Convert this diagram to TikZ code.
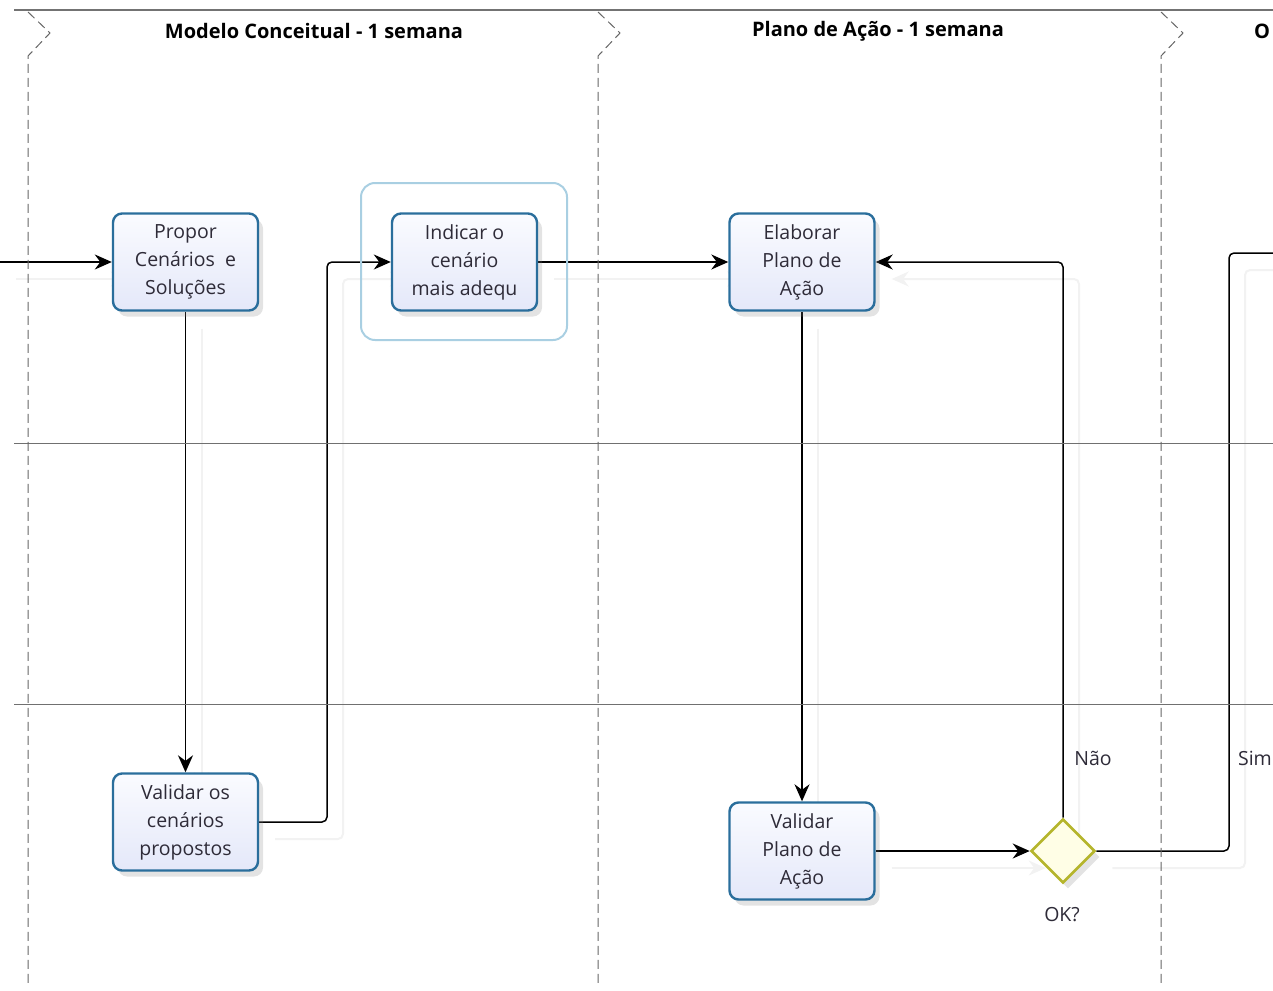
\documentclass[tikz,border=0pt]{standalone}
\usepackage{fontspec}
\setmainfont{Open Sans}
\usetikzlibrary{arrows.meta,shadows,shapes.geometric}
\definecolor{boxline}{HTML}{2A6E9C}
\definecolor{boxtop}{HTML}{FAFBFF}
\definecolor{boxbot}{HTML}{E4E8F9}
\definecolor{txt}{HTML}{2E2B38}
\definecolor{lane}{HTML}{707070}
\definecolor{halo}{HTML}{A9CFE2}
\definecolor{gatefill}{HTML}{FFFEE6}
\definecolor{gateline}{HTML}{B5B52C}
\pgfdeclarelayer{bg}
\pgfsetlayers{bg,main}
\tikzset{
  task/.style={draw=boxline, line width=2.4pt, rounded corners=9pt,
    top color=boxtop, bottom color=boxbot,
    minimum width=145pt, minimum height=97pt, inner sep=0pt,
    align=center, text=txt, font=\fontsize{19.5}{28}\selectfont,
    drop shadow={opacity=0.22, shadow xshift=5pt, shadow yshift=-6pt}},
  gate/.style={diamond, draw=gateline, line width=2.6pt, fill=gatefill,
    minimum width=64pt, minimum height=64pt, inner sep=0pt,
    drop shadow={opacity=0.22, shadow xshift=5pt, shadow yshift=-6pt}},
  conn/.style={draw=black, line width=1.5pt, rounded corners=5pt,
    -{Stealth[length=17pt,width=15pt,inset=5.5pt]},
    preaction={draw=black!5, line width=2pt,
      transform canvas={xshift=16pt,yshift=-17pt}}},
  laneline/.style={draw=lane, line width=1pt},
  sep/.style={draw=black!60, line width=1pt, dash pattern=on 9pt off 5pt},
  header/.style={font=\fontsize{20}{22}\selectfont\bfseries, text=black},
  lbl/.style={font=\fontsize{19.5}{22}\selectfont, text=txt}
}
\begin{document}
\begin{tikzpicture}[x=1pt,y=-1pt]
\clip (0,0) rectangle (1273,990);

% lane frame
\draw[laneline, draw=black!55, line width=1.3pt] (14,10) -- (1273,10);
\draw[laneline] (14,443) -- (1273,443);
\draw[laneline] (14,704) -- (1273,704);
\foreach \x in {28,598,1161}
  \draw[sep] (\x,12) -- (\x+22,33) -- (\x,56) -- (\x,985);

% phase titles
\node[header] (h1) at (314,31) {Modelo Conceitual - 1 semana};
\node[header] (h2) at (878,31) {Plano de Ação - 1 semana};
\node[header, anchor=west, inner sep=0pt] (h3) at (1254,31) {O};

% tasks
\node[task] (propor) at (185.5,262) {Propor\\Cenários\ \ e\\Soluções};
\draw[halo, line width=2pt, rounded corners=14pt] (361,183) rectangle (567,340);
\node[task] (indicar) at (464.5,262) {Indicar o\\cenário\\mais adequ};
\node[task] (elaborar) at (802,262) {Elaborar\\Plano de\\Ação};
\node[task] (validarA) at (185.5,822) {Validar os\\cenários\\propostos};
\node[task] (validarB) at (802,851) {Validar\\Plano de\\Ação};
\node[gate] (ok) at (1063,851) {};
\node[lbl] (okl) at (1062,915) {OK?};
\node[lbl] (nao) at (1093,758) {Não};
\node[lbl, anchor=east, inner sep=0pt] (sim) at (1272,758) {Sim};

\coordinate (in) at (0,262);
\coordinate (out) at (1290,253);

% sequence flows, kept beneath the task boxes
\begin{pgfonlayer}{bg}
\path[conn] (in) -- (propor.west);
\path[conn] (propor.south) -- (validarA.north);
\path[conn] (validarA.east) -- (327,822) -- (327,262) -- (indicar.west);
\path[conn] (indicar.east) -- (elaborar.west);
\path[conn] (elaborar.south) -- (validarB.north);
\path[conn] (validarB.east) -- (ok.west);
\path[conn] (ok.north) -- (1063,262) -- (elaborar.east);
\path[conn, -] (ok.east) -- (1229,851) -- (1229,253) -- (out);
\end{pgfonlayer}
\end{tikzpicture}
\end{document}
